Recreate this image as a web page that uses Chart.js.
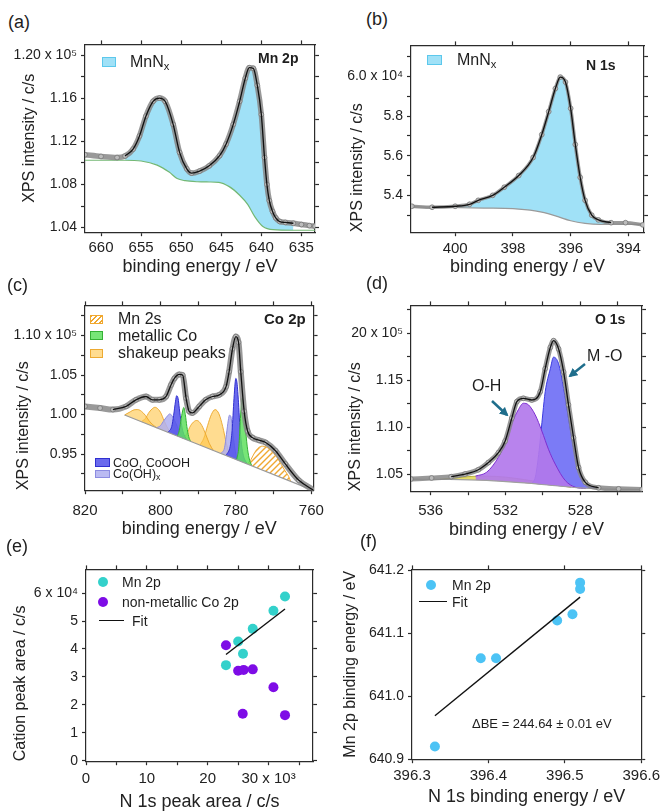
<!DOCTYPE html>
<html>
<head>
<meta charset="utf-8">
<title>XPS panels</title>
<script src="https://cdn.jsdelivr.net/npm/chart.js@4.4.1/dist/chart.umd.min.js"></script>
<style>
  body { margin: 0; background: #fff; font-family: Arial, "Liberation Sans", Helvetica, sans-serif; color: #1e1e1e; }
  #fig { position: relative; width: 664px; height: 811px; overflow: hidden; }
  #fig canvas { position: absolute; }
  .lbl { position: absolute; white-space: nowrap; line-height: 1; transform: translateY(-50%); }
  .pl { font-size: 18px; }
  .tag { font-size: 14px; font-weight: bold; }
  .leg { font-size: 16px; }
  .legs { font-size: 12.5px; }
  .legm { font-size: 14px; }
  .sw { position: absolute; box-sizing: border-box; }
  .dot { position: absolute; border-radius: 50%; width: 10px; height: 10px; }
  .ln { position: absolute; height: 0; border-top: 1.5px solid #111; }
  sub { font-size: 70%; vertical-align: -0.3em; line-height: 0; }
</style>
</head>
<body>
<div id="fig">
  <canvas id="chartA"></canvas>
  <canvas id="chartB"></canvas>
  <canvas id="chartC"></canvas>
  <canvas id="chartD"></canvas>
  <canvas id="chartE"></canvas>
  <canvas id="chartF"></canvas>

  <!-- panel letters -->
  <div class="lbl pl" style="left:8px;top:22px">(a)</div>
  <div class="lbl pl" style="left:366px;top:19px">(b)</div>
  <div class="lbl pl" style="left:7px;top:285px">(c)</div>
  <div class="lbl pl" style="left:366px;top:283px">(d)</div>
  <div class="lbl pl" style="left:6px;top:546px">(e)</div>
  <div class="lbl pl" style="left:360px;top:541px">(f)</div>

  <!-- (a) -->
  <div class="sw" style="left:102px;top:57px;width:14px;height:10px;background:rgba(150,222,246,0.9);border:1px solid #5cc8ec"></div>
  <div class="lbl leg" style="left:130px;top:62px">MnN<sub>x</sub></div>
  <div class="lbl tag" style="left:258px;top:58px">Mn 2p</div>

  <!-- (b) -->
  <div class="sw" style="left:427px;top:55px;width:15px;height:10px;background:rgba(150,222,246,0.9);border:1px solid #5cc8ec"></div>
  <div class="lbl leg" style="left:457px;top:60px">MnN<sub>x</sub></div>
  <div class="lbl tag" style="left:586px;top:65px">N 1s</div>

  <!-- (c) -->
  <div class="sw" style="left:90px;top:315px;width:13px;height:9px;border:1px solid #f0a830;background:repeating-linear-gradient(135deg,#f0a830 0 1.4px,#fff 1.4px 3.5px)"></div>
  <div class="lbl leg" style="left:118px;top:319px">Mn 2s</div>
  <div class="sw" style="left:90px;top:331px;width:13px;height:9px;background:rgba(95,225,95,0.85);border:1px solid #35b035"></div>
  <div class="lbl leg" style="left:118px;top:336px">metallic Co</div>
  <div class="sw" style="left:90px;top:349px;width:13px;height:9px;background:rgba(255,196,70,0.6);border:1px solid rgba(235,165,40,0.9)"></div>
  <div class="lbl leg" style="left:118px;top:353px">shakeup peaks</div>
  <div class="sw" style="left:95px;top:458px;width:15px;height:9px;background:rgba(85,85,235,0.88);border:1px solid #3030d0"></div>
  <div class="lbl legs" style="left:113px;top:462.5px">CoO, CoOOH</div>
  <div class="sw" style="left:95px;top:470px;width:15px;height:8px;background:rgba(175,175,240,0.85);border:1px solid #8c8ce1"></div>
  <div class="lbl legs" style="left:113px;top:474px">Co(OH)<sub>x</sub></div>
  <div class="lbl tag" style="left:264px;top:318px;font-size:15px">Co 2p</div>

  <!-- (d) -->
  <div class="lbl tag" style="left:595px;top:319px">O 1s</div>
  <div class="lbl leg" style="left:587px;top:356px">M -O</div>
  <div class="lbl leg" style="left:472px;top:386px">O-H</div>

  <!-- (e) -->
  <div class="dot" style="left:98px;top:577px;background:#33d1cb"></div>
  <div class="lbl legm" style="left:122px;top:582px">Mn 2p</div>
  <div class="dot" style="left:98px;top:597px;background:#7e0ce6"></div>
  <div class="lbl legm" style="left:122px;top:602px">non-metallic Co 2p</div>
  <div class="ln" style="left:99px;top:620px;width:25px"></div>
  <div class="lbl legm" style="left:132px;top:621px">Fit</div>

  <!-- (f) -->
  <div class="dot" style="left:426px;top:580px;background:#4cc3f5"></div>
  <div class="lbl legm" style="left:452px;top:585px">Mn 2p</div>
  <div class="ln" style="left:419px;top:601px;width:28px"></div>
  <div class="lbl legm" style="left:452px;top:602px">Fit</div>
  <div class="lbl" style="left:472px;top:723px;font-size:13px">&Delta;BE = 244.64 &plusmn; 0.01 eV</div>

  <svg width="664" height="811" style="position:absolute;left:0;top:0;pointer-events:none">
    <defs>
      <marker id="ah" markerUnits="userSpaceOnUse" markerWidth="9" markerHeight="9" refX="7" refY="4.5" orient="auto">
        <path d="M0,0 L9,4.5 L0,9 z" fill="#1f6e8c"/>
      </marker>
    </defs>
    <line x1="585" y1="364" x2="570" y2="376" stroke="#1f6e8c" stroke-width="2.5" marker-end="url(#ah)"/>
    <line x1="492" y1="401" x2="507" y2="415" stroke="#1f6e8c" stroke-width="2.5" marker-end="url(#ah)"/>
  </svg>
</div>

<script>
// ---------- (a) Mn 2p, intensity in 1e5 c/s ----------
var mnEnergy = [662, 660, 658, 657, 656, 655.2, 654.4, 653.5, 652.7, 652, 651, 650.2, 649.3, 648.7, 647.7, 646.5, 645.2, 644.4, 643.5, 642.7, 642, 641.5, 641, 640.5, 640, 639.6, 639.3, 639, 638.6, 638.2, 637.7, 637, 636, 635, 634, 633.3];
var mnCounts = [1.1076, 1.106, 1.105, 1.1064, 1.1128, 1.125, 1.1434, 1.1572, 1.1602, 1.1572, 1.1358, 1.1098, 1.0945, 1.0905, 1.0924, 1.0973, 1.1067, 1.1174, 1.1358, 1.1572, 1.1786, 1.1884, 1.1878, 1.172, 1.145, 1.105, 1.08, 1.065, 1.055, 1.049, 1.0456, 1.0448, 1.044, 1.0428, 1.0418, 1.0413];
var mnBgEnergy = [662, 657, 655, 653, 651.5, 650.5, 649.5, 648, 646.5, 645.3, 644, 642.7, 641.7, 640.8, 639.8, 638.5, 636, 633.3];
var mnBgCounts = [1.1025, 1.1025, 1.1018, 1.098, 1.0915, 1.0855, 1.0835, 1.0825, 1.0823, 1.082, 1.078, 1.070, 1.0615, 1.050, 1.041, 1.038, 1.0375, 1.0375];
var mnFitRange = [657.3, 636];

// ---------- (b) N 1s, intensity in 1e4 c/s ----------
var nEnergy = [401.5, 400.8, 400, 399.5, 399.2, 398.7, 398.3, 397.8, 397.3, 397.0, 396.76, 396.53, 396.36, 396.18, 396.0, 395.84, 395.67, 395.5, 395.27, 395.04, 394.6, 394.1, 393.5];
var nCounts = [5.345, 5.34, 5.345, 5.355, 5.375, 5.40, 5.441, 5.50, 5.591, 5.707, 5.823, 5.939, 5.997, 5.972, 5.839, 5.657, 5.491, 5.375, 5.30, 5.276, 5.262, 5.262, 5.251];
var nBgEnergy = [401.5, 399, 398, 397.4, 397, 396.5, 396, 395.5, 395, 393.5];
var nBgCounts = [5.342, 5.336, 5.333, 5.325, 5.315, 5.295, 5.272, 5.259, 5.254, 5.254];
var nFitRange = [400.8, 394.3];

// ---------- (c) Co 2p, intensity in 1e5 c/s ----------
var coEnergy = [820, 816, 812.6, 809.1, 806.5, 803.8, 802.1, 800.3, 798.5, 797.2, 796.3, 795, 794.1, 793.2, 792.4, 791.5, 789.7, 788, 786.2, 784.4, 782.6, 781.8, 780.9, 780, 779.3, 778.7, 777.8, 776.9, 775.6, 773.9, 772.1, 769.5, 766.9, 763.3, 759.4];
var coCounts = [1.0104, 1.0083, 1.0063, 1.0104, 1.0187, 1.0229, 1.0187, 1.0187, 1.0229, 1.0375, 1.0458, 1.0508, 1.05, 1.0208, 1.0042, 1.0021, 1.0104, 1.0187, 1.0229, 1.025, 1.0354, 1.0542, 1.0833, 1.0988, 1.0917, 1.0542, 1.0042, 0.9792, 0.9708, 0.9675, 0.9646, 0.9542, 0.9375, 0.9167, 0.9042];
var coBgEnergy = [809.5, 760];
var coBgCounts = [0.9995, 0.905];
var coFitRange = [815.5, 759];
var shake1E = [809.5, 808, 807, 806, 805, 804, 803, 802, 801];
var shake1Y = [0.9995, 1.0035, 1.006, 1.0063, 1.004, 0.999, 0.992, 0.987, 0.9834];
var shake2E = [805, 804, 803, 802, 801.5, 801, 800, 799, 798, 797];
var shake2Y = [0.9912, 0.995, 1.003, 1.008, 1.0092, 1.0085, 1.003, 0.992, 0.982, 0.9757];
var shake3E = [794, 793, 792, 791, 790.5, 790, 789, 788, 787, 786];
var shake3Y = [0.97, 0.976, 0.986, 0.9915, 0.9925, 0.992, 0.986, 0.975, 0.963, 0.9547];
var shake4E = [789.5, 788.5, 787.5, 786.5, 785.5, 784.5, 783.5, 782.5, 781.5];
var shake4Y = [0.9614, 0.97, 0.986, 1.0, 1.0063, 1.001, 0.985, 0.963, 0.9461];
var hydr1E = [801, 800, 799, 798, 797.6, 797, 796, 795, 794];
var hydr1Y = [0.9833, 0.986, 0.993, 0.999, 1.0008, 0.999, 0.99, 0.979, 0.9699];
var hydr2E = [784, 783, 782.5, 782, 781.7, 781.3, 781, 780.5, 780, 779];
var hydr2Y = [0.9508, 0.958, 0.975, 0.993, 0.9992, 0.997, 0.985, 0.965, 0.95, 0.9413];
var oxid1E = [798, 797, 796.5, 796, 795.7, 795.3, 795, 794.5, 794, 793];
var oxid1Y = [0.9776, 0.985, 0.999, 1.017, 1.0238, 1.02, 1.008, 0.99, 0.978, 0.968];
var oxid2E = [782.5, 781.5, 781, 780.5, 780.2, 780, 779.7, 779.3, 779, 778.5, 778, 777];
var oxid2Y = [0.9489, 0.96, 0.98, 1.02, 1.04, 1.0458, 1.04, 1.015, 0.99, 0.962, 0.948, 0.9375];
var metal1E = [795.5, 795, 794.5, 794, 793.8, 793.4, 793, 792.5, 792];
var metal1Y = [0.9728, 0.98, 0.995, 1.007, 1.009, 1.0, 0.985, 0.972, 0.9661];
var metal2E = [779.8, 779.2, 778.8, 778.5, 778.3, 778, 777.5, 777, 776.5, 775.8];
var metal2Y = [0.9428, 0.96, 0.995, 1.015, 1.0208, 1.012, 0.985, 0.96, 0.945, 0.9352];
var mn2sE = [777, 776, 775, 774, 773, 772, 771, 770, 769, 768, 767, 766, 765.5];
var mn2sY = [0.9375, 0.943, 0.952, 0.958, 0.96, 0.959, 0.956, 0.951, 0.945, 0.937, 0.929, 0.9215, 0.9155];

// ---------- (d) O 1s, intensity in 1e5 c/s ----------
var oEnergy = [537.05, 535.95, 534.9, 534.16, 533.45, 532.91, 532.375, 532.02, 531.66, 531.39, 531.04, 530.59, 530.14, 529.875, 529.6, 529.43, 529.16, 528.89, 528.63, 528.36, 528.09, 527.73, 527.02, 525.95, 524.7];
var oCounts = [1.0447, 1.0458, 1.0472, 1.05, 1.0546, 1.0623, 1.0728, 1.0851, 1.1097, 1.1273, 1.1308, 1.129, 1.1378, 1.1624, 1.1852, 1.1923, 1.1835, 1.1589, 1.1238, 1.0887, 1.057, 1.0412, 1.0353, 1.0342, 1.0335];
var oBgEnergy = [537.05, 535, 533, 531, 529.5, 528, 527, 524.7];
var oBgCounts = [1.0445, 1.0443, 1.0432, 1.0405, 1.0378, 1.0352, 1.0342, 1.0335];
var oFitRange = [535, 526];
var oYellowE = [535.5, 534.5, 533.5, 532.5, 531.5, 530.5, 529.5, 528.5];
var oYellowY = [1.0444, 1.0462, 1.0478, 1.0475, 1.0455, 1.0425, 1.039, 1.0358];
var ohE = [533.6, 533.0, 532.375, 532.02, 531.66, 531.3, 531.04, 530.77, 530.41, 530.05, 529.7, 529.34, 528.8, 528.27, 527.7];
var ohY = [1.0478, 1.052, 1.068, 1.083, 1.104, 1.119, 1.1255, 1.1238, 1.1132, 1.0957, 1.0764, 1.0606, 1.043, 1.036, 1.0345];
var moE = [530.6, 530.4, 530.2, 530.0, 529.875, 529.6, 529.43, 529.16, 528.89, 528.63, 528.36, 528.09, 527.73, 527.2];
var moY = [1.0398, 1.047, 1.075, 1.115, 1.1378, 1.1624, 1.1747, 1.1677, 1.1413, 1.1097, 1.0781, 1.0535, 1.0395, 1.0353];

// ---------- (e) peak areas, x in 1e3 c/s, y in 1e4 c/s ----------
var mnAreaN = [32.7, 30.8, 27.4, 25.0, 25.8, 23.0];
var mnAreaCation = [5.88, 5.37, 4.72, 4.27, 3.83, 3.42];
var coAreaN = [23.0, 25.0, 25.9, 27.4, 30.8, 25.75, 32.7];
var coAreaCation = [4.13, 3.22, 3.25, 3.27, 2.63, 1.68, 1.63];
var areaFitN = [23.0, 32.7];
var areaFitCation = [3.80, 5.43];

// ---------- (f) binding energies ----------
var n1sBE = [396.33, 396.39, 396.41, 396.49, 396.51, 396.52, 396.52];
var mn2pBE = [640.92, 641.06, 641.06, 641.12, 641.13, 641.18, 641.17];
var beFitN = [396.33, 396.52];
var beFitMn = [640.969, 641.157];

Chart.defaults.font.family = 'Arial, "Liberation Sans", Helvetica, sans-serif';
Chart.defaults.color = '#1e1e1e';

function pts(xs, ys) {
  return xs.map(function (x, i) { return { x: x, y: ys[i] }; });
}
function inRange(xs, ys, range) {
  var out = [];
  xs.forEach(function (x, i) {
    if (x <= range[0] && x >= range[1]) out.push({ x: x, y: ys[i] });
  });
  return out;
}

function hatchPattern() {
  var c = document.createElement('canvas');
  c.width = 6; c.height = 6;
  var g = c.getContext('2d');
  g.strokeStyle = '#f0a830';
  g.lineWidth = 1.4;
  g.beginPath();
  g.moveTo(0, 6); g.lineTo(6, 0);
  g.moveTo(-2, 2); g.lineTo(2, -2);
  g.moveTo(4, 8); g.lineTo(8, 4);
  g.stroke();
  return g.createPattern(c, 'repeat');
}

// box = where the plot frame sits on the page
function placeCanvas(id, box) {
  var c = document.getElementById(id);
  var bottomH = box.titleOff + 10.8;
  c.width = 332;
  c.height = Math.round(10 + (box.b - box.t) + bottomH);
  c.style.left = box.col + 'px';
  c.style.top = (box.t - 10) + 'px';
  return c;
}

function buildScales(box, p) {
  var border = { display: true, color: '#2b2b2b', width: 1.2 };
  var grid = { drawOnChartArea: false, drawTicks: true, tickLength: 4, tickColor: '#2b2b2b', tickWidth: 1.2 };
  return {
    x: {
      type: 'linear', position: 'bottom', min: p.x[0], max: p.x[1], reverse: !!p.rev,
      border: border, grid: grid,
      ticks: { stepSize: p.xStep, includeBounds: false, autoSkip: false, maxRotation: 0,
               padding: box.xPad, font: { size: 15 }, color: '#222', callback: p.xFmt },
      title: { display: true, text: p.xTitle, font: { size: 18 }, color: '#222', padding: 0 },
      afterFit: function (s) { s.height = box.titleOff + 10.8; }
    },
    x2: {
      type: 'linear', position: 'top', min: p.x[0], max: p.x[1], reverse: !!p.rev,
      border: border, grid: grid,
      ticks: { display: false, stepSize: p.xStep, includeBounds: false, autoSkip: false },
      afterFit: function (s) { s.height = 5; }
    },
    y: {
      type: 'linear', position: 'left', min: p.y[0], max: p.y[1],
      border: border, grid: grid,
      ticks: { stepSize: p.yStep, includeBounds: false, autoSkip: false, padding: 4,
               font: { size: 14 }, color: '#222', callback: p.yFmt },
      title: { display: true, text: p.yTitle, font: { size: 16 }, color: '#222', align: box.yAlign,
               padding: { top: box.yTitleX - box.col - 9.6, bottom: 0 } },
      afterFit: function (s) { s.width = box.l - box.col; }
    },
    y2: {
      type: 'linear', position: 'right', min: p.y[0], max: p.y[1],
      border: border, grid: grid,
      ticks: { display: false, stepSize: p.yStep, includeBounds: false, autoSkip: false },
      afterFit: function (s) { s.width = 5; }
    }
  };
}

function makeChart(id, box, type, datasets, p) {
  var canvas = placeCanvas(id, box);
  return new Chart(canvas, {
    type: type,
    data: { datasets: datasets },
    options: {
      responsive: false,
      animation: false,
      devicePixelRatio: 1,
      events: [],
      layout: { padding: { top: 5, left: 0, right: box.col + 332 - box.r - 5, bottom: 0 } },
      plugins: { legend: { display: false }, tooltip: { enabled: false } },
      scales: buildScales(box, p)
    }
  });
}

function measured(xs, ys, w) {
  return { data: pts(xs, ys), borderColor: 'rgba(135,135,135,0.85)', borderWidth: w || 5.5,
           pointRadius: 2.4, pointBackgroundColor: '#bcbcbc', pointBorderColor: '#777',
           pointBorderWidth: 0.8, cubicInterpolationMode: 'monotone', fill: false, order: 2 };
}
function fitLine(data) {
  return { data: data, borderColor: '#111', borderWidth: 1.3, pointRadius: 0,
           cubicInterpolationMode: 'monotone', fill: false, order: 1 };
}
function baseLine(xs, ys, color) {
  return { data: pts(xs, ys), borderColor: color, borderWidth: 1.2, pointRadius: 0,
           cubicInterpolationMode: 'monotone', fill: false, order: 3 };
}
function component(xs, ys, fillColor, lineColor, order) {
  return { data: pts(xs, ys), borderColor: lineColor, borderWidth: 1, backgroundColor: fillColor,
           pointRadius: 0, cubicInterpolationMode: 'monotone', fill: { target: 0 }, order: order };
}

function fmtEvery(mult, scale, digits, topVal, topText) {
  return function (v) {
    var k = Math.round(v * scale);
    if (k % mult !== 0) return '';
    if (topVal !== undefined && Math.abs(v - topVal) < 1e-6) return topText;
    return v.toFixed(digits);
  };
}

var boxA = { l: 85, t: 42, r: 315, b: 232, col: 0, yTitleX: 29.5, titleOff: 35, xPad: 3, yAlign: 'center' };
var boxB = { l: 411, t: 43, r: 644, b: 232, col: 332, yTitleX: 357.5, titleOff: 35, xPad: 4, yAlign: 'start' };
var boxC = { l: 85, t: 303, r: 315, b: 490, col: 0, yTitleX: 23.5, titleOff: 39, xPad: 8, yAlign: 'start' };
var boxD = { l: 411, t: 303, r: 642, b: 491, col: 332, yTitleX: 355.5, titleOff: 39, xPad: 7, yAlign: 'start' };
var boxE = { l: 86, t: 567, r: 313, b: 761, col: 0, yTitleX: 21, titleOff: 41, xPad: 5, yAlign: 'start' };
var boxF = { l: 412, t: 567, r: 643, b: 759, col: 332, yTitleX: 350.3, titleOff: 38, xPad: 4, yAlign: 'center' };

var mnxFill = 'rgba(150,222,246,0.9)';

// (a)
makeChart('chartA', boxA, 'line', [
  baseLine(mnBgEnergy, mnBgCounts, '#74b874'),
  { data: inRange(mnEnergy, mnCounts, mnFitRange), borderWidth: 0, pointRadius: 0, backgroundColor: mnxFill,
    cubicInterpolationMode: 'monotone', fill: { target: 0 }, order: 4 },
  measured(mnEnergy, mnCounts),
  fitLine(inRange(mnEnergy, mnCounts, mnFitRange))
], {
  x: [633.3, 662], rev: true, xStep: 5, xFmt: function (v) { return String(v); },
  y: [1.0357, 1.210], yStep: 0.02, yFmt: fmtEvery(4, 100, 2, 1.2, '1.20 x 10\u2075'),
  xTitle: 'binding energy / eV', yTitle: 'XPS intensity / c/s'
});

// (b)
makeChart('chartB', boxB, 'line', [
  baseLine(nBgEnergy, nBgCounts, '#9a9a9a'),
  { data: inRange(nEnergy, nCounts, nFitRange), borderWidth: 0, pointRadius: 0, backgroundColor: mnxFill,
    cubicInterpolationMode: 'monotone', fill: { target: 0 }, order: 4 },
  measured(nEnergy, nCounts, 3.5),
  fitLine(inRange(nEnergy, nCounts, nFitRange))
], {
  x: [393.46, 401.53], rev: true, xStep: 2, xFmt: function (v) { return String(v); },
  y: [5.214, 6.157], yStep: 0.1, yFmt: fmtEvery(2, 10, 1, 6.0, '6.0 x 10\u2074'),
  xTitle: 'binding energy / eV', yTitle: 'XPS intensity / c/s'
});

// (c)
var shakeFill = 'rgba(255,196,70,0.6)', shakeLine = 'rgba(235,165,40,0.9)';
var hydrFill = 'rgba(175,175,240,0.85)', hydrLine = '#8c8ce1';
var oxidFill = 'rgba(85,85,235,0.88)', oxidLine = '#3030d0';
var metalFill = 'rgba(95,225,95,0.85)', metalLine = '#35b035';
makeChart('chartC', boxC, 'line', [
  baseLine(coBgEnergy, coBgCounts, '#9a9a9a'),
  component(shake1E, shake1Y, shakeFill, shakeLine, 9),
  component(shake2E, shake2Y, shakeFill, shakeLine, 9),
  component(shake3E, shake3Y, shakeFill, shakeLine, 9),
  component(shake4E, shake4Y, shakeFill, shakeLine, 9),
  component(hydr1E, hydr1Y, hydrFill, hydrLine, 8),
  component(hydr2E, hydr2Y, hydrFill, hydrLine, 8),
  component(oxid1E, oxid1Y, oxidFill, oxidLine, 7),
  component(oxid2E, oxid2Y, oxidFill, oxidLine, 7),
  component(metal1E, metal1Y, metalFill, metalLine, 6),
  component(metal2E, metal2Y, metalFill, metalLine, 6),
  component(mn2sE, mn2sY, hatchPattern(), '#f0a830', 6),
  measured(coEnergy, coCounts, 6),
  fitLine(inRange(coEnergy, coCounts, coFitRange))
], {
  x: [759.4, 820], rev: true, xStep: 10, xFmt: function (v) { return Math.round(v) % 20 === 0 ? String(v) : ''; },
  y: [0.9042, 1.1383], yStep: 0.025, yFmt: fmtEvery(50, 1000, 2, 1.1, '1.10 x 10\u2075'),
  xTitle: 'binding energy / eV', yTitle: 'XPS intensity / c/s'
});

// (d)
makeChart('chartD', boxD, 'line', [
  baseLine(oBgEnergy, oBgCounts, '#a0a0a0'),
  component(oYellowE, oYellowY, 'rgba(225,215,80,0.85)', '#b8b040', 8),
  component(moE, moY, 'rgba(112,112,245,0.92)', '#3a3ae0', 7),
  component(ohE, ohY, 'rgba(178,120,235,0.92)', '#7d2fd0', 6),
  measured(oEnergy, oCounts, 5),
  fitLine(inRange(oEnergy, oCounts, oFitRange))
], {
  x: [524.7, 537.05], rev: true, xStep: 2, xFmt: function (v) { return Math.round(v) % 4 === 0 ? String(v) : ''; },
  y: [1.0317, 1.2299], yStep: 0.025, yFmt: fmtEvery(50, 1000, 2, 1.2, '20 x 10\u2075'),
  xTitle: 'binding energy / eV', yTitle: 'XPS intensity / c/s'
});

// (e)
makeChart('chartE', boxE, 'scatter', [
  { data: pts(areaFitN, areaFitCation), showLine: true, borderColor: '#111', borderWidth: 1.4, pointRadius: 0, order: 1 },
  { data: pts(mnAreaN, mnAreaCation), backgroundColor: '#33d1cb', borderWidth: 0, pointRadius: 5, order: 2 },
  { data: pts(coAreaN, coAreaCation), backgroundColor: '#7e0ce6', borderWidth: 0, pointRadius: 5, order: 3 }
], {
  x: [0, 37.3], xStep: 5,
  xFmt: function (v) { if (v % 10 !== 0) return ''; return v === 30 ? '30 x 10\u00b3' : String(v); },
  y: [-0.02, 6.85], yStep: 1, yFmt: function (v) { return v === 6 ? '6 x 10\u2074' : String(v); },
  xTitle: 'N 1s peak area / c/s', yTitle: 'Cation peak area / c/s'
});

// (f)
makeChart('chartF', boxF, 'scatter', [
  { data: pts(beFitN, beFitMn), showLine: true, borderColor: '#111', borderWidth: 1.4, pointRadius: 0, order: 1 },
  { data: pts(n1sBE, mn2pBE), backgroundColor: '#4cc3f5', borderWidth: 0, pointRadius: 5, order: 2 }
], {
  x: [396.3, 396.6], xStep: 0.1, xFmt: function (v) { return v.toFixed(1); },
  y: [640.9, 641.201], yStep: 0.1, yFmt: function (v) { return v.toFixed(1); },
  xTitle: 'N 1s binding energy / eV', yTitle: 'Mn 2p binding energy / eV'
});
</script>
</body>
</html>
